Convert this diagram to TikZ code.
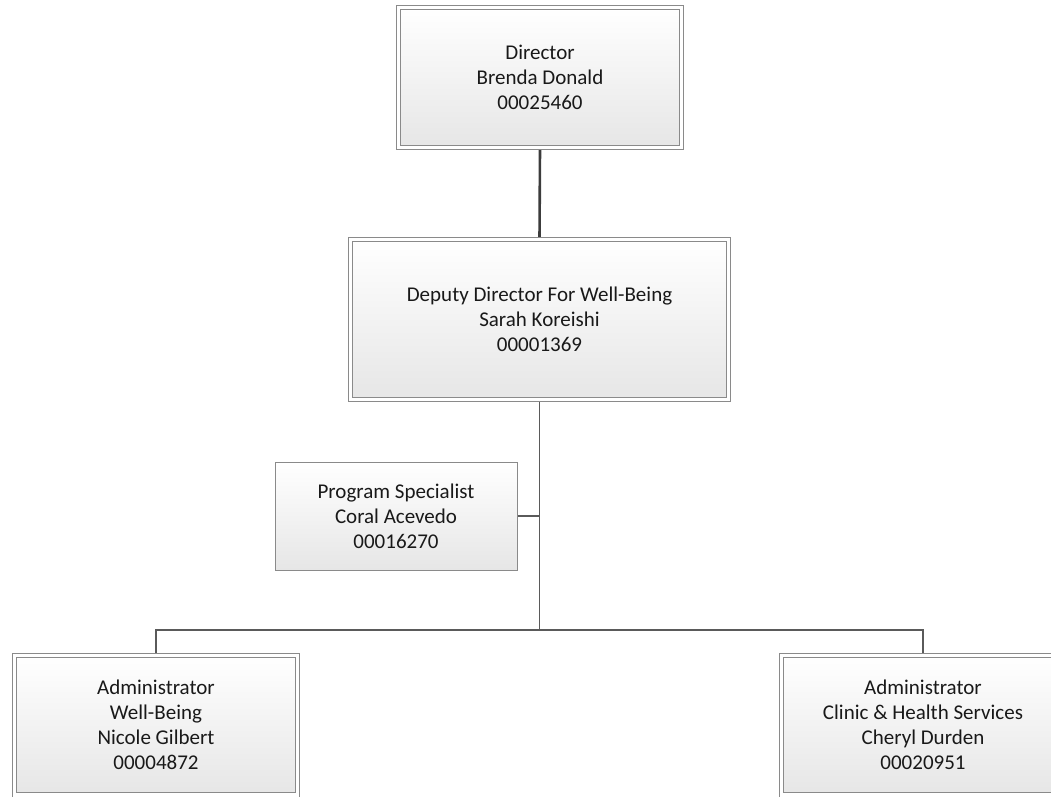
\documentclass[tikz,border=0pt]{standalone}
\usepackage{fontspec}
\setmainfont{Carlito}
\usetikzlibrary{backgrounds}
\definecolor{boxgray}{RGB}{138,138,138}
\definecolor{fillgray}{RGB}{230,230,230}
\definecolor{linegray}{RGB}{90,90,90}
\definecolor{darkline}{RGB}{60,60,60}
\begin{document}
\begin{tikzpicture}[x=1pt,y=-1pt,
  box/.style={rectangle, draw=boxgray, line width=1pt, top color=white, bottom color=fillgray,
    align=center, font=\fontsize{21}{25}\selectfont, inner sep=0pt, text=black!90},
  dbox/.style={box, double=white, double distance=3.5pt},
  link/.style={draw=linegray, line width=1.2pt},
  toplink/.style={draw=darkline, line width=2.6pt}]
\useasboundingbox (0,0) rectangle (1051,796);
\clip (0,0) rectangle (1051,796);
\node[dbox, minimum width=283pt, minimum height=140pt] (dir) at (540,77.5)
  {Director\\Brenda Donald\\00025460};
\node[dbox, minimum width=378pt, minimum height=160pt] (dep) at (539.5,319.5)
  {Deputy Director For Well-Being\\Sarah Koreishi\\00001369};
\node[box, minimum width=242pt, minimum height=108pt] (ps) at (396,516)
  {Program Specialist\\Coral Acevedo\\00016270};
\node[dbox, minimum width=283pt, minimum height=139.5pt] (adm1) at (156,725.25)
  {Administrator\\Well-Being\\Nicole Gilbert\\00004872};
\node[dbox, minimum width=283pt, minimum height=139.5pt] (adm2) at (923,725.25)
  {Administrator\\Clinic \& Health Services\\Cheryl Durden\\00020951};
\coordinate (hub) at (540,630);
\begin{scope}[on background layer]
\draw[toplink] (dir.south) -- (dep.north);
\draw[link] (dep.south) -- (dep.south |- hub);
\draw[link] (ps.east) -- (ps.east -| dep.south);
\draw[link] (adm1.north) -- (adm1.north |- hub) -- (adm2.north |- hub) -- (adm2.north);
\end{scope}
\end{tikzpicture}
\end{document}
